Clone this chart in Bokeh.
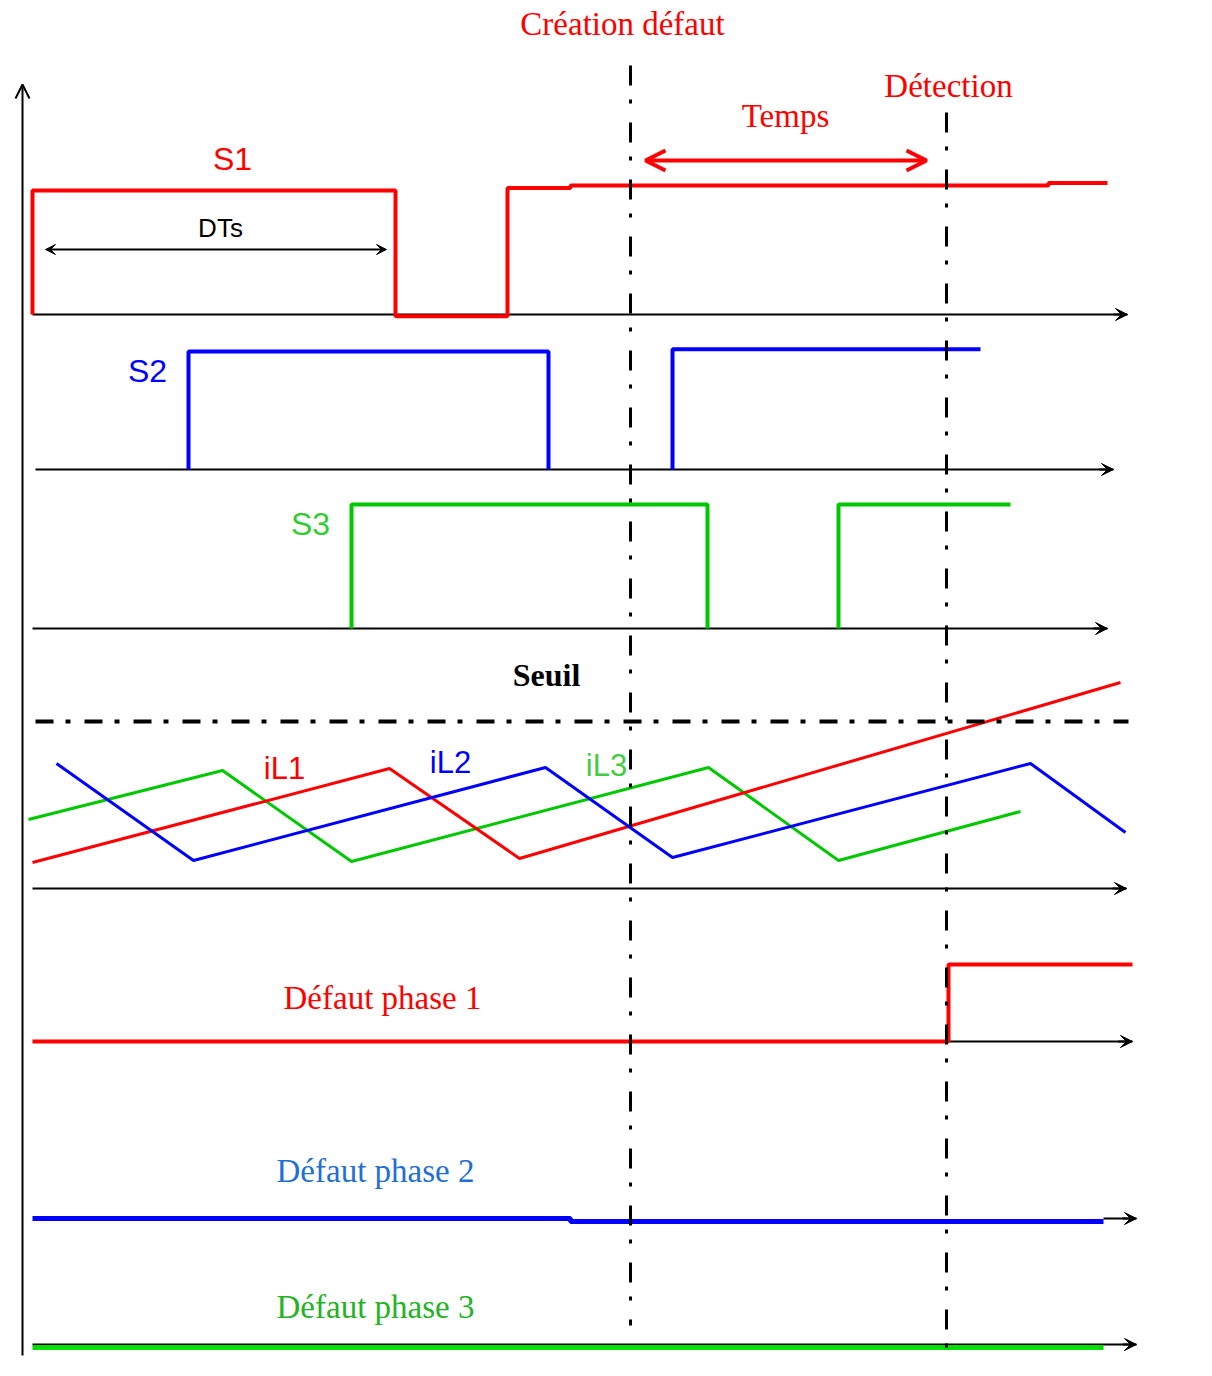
import math
from bokeh.plotting import figure
from bokeh.models import Range1d, ColumnDataSource, Arrow, VeeHead, OpenHead
from bokeh.core.properties import value
from bokeh.embed import file_html
from bokeh.resources import INLINE

NaN = float("nan")

# ---------------- data (time axis in drawing units, logic levels 0/1) ----------------
# switching signals
s1_t = [32, 32, 395, 395, 507, 507, 570, 570, 1048, 1048, 1107]
s1_v = [0, 1.0, 1.0, -0.015, -0.015, 1.02, 1.02, 1.04, 1.04, 1.06, 1.06]
s2_t = [188, 188, 548, 548, NaN, 672, 672, 980]
s2_v = [0, 1.0, 1.0, 0, NaN, 0, 1.02, 1.02]
s3_t = [351, 351, 707, 707, NaN, 838, 838, 1010]
s3_v = [0, 1.0, 1.0, 0, NaN, 0, 1.0, 1.0]

# inductor currents (relative to current baseline)
il1_t = [32, 389, 519, 1120]
il1_v = [26, 120, 30, 206]
il2_t = [56, 193, 545, 672, 1030, 1125]
il2_v = [125, 28, 121, 31, 125, 56]
il3_t = [28, 222, 351, 708, 838, 1020]
il3_v = [69, 118, 27, 121, 28, 77]
seuil = 167

# fault flags
f1_t = [32, 948, 948, 1132]
f1_v = [0, 0, 1, 1]
f2_t = [32, 570, 570, 1103]
f2_v = [0.0, 0.0, -0.04, -0.04]
f3_t = [32, 1103]
f3_v = [-0.04, -0.04]

t_fault = 630
t_detect = 946

# ---------------- layout ----------------
base_s1, amp_s1 = 314, 124
base_s2, amp_s2 = 469, 118
base_s3, amp_s3 = 628, 124
base_il = 888
base_f1, amp_f1 = 1041, 77
base_f2, amp_f2 = 1218, 77
base_f3, amp_f3 = 1344, 77

RED = "#ff0000"
BLUE = "#0000ff"
GREEN = "#00c800"

p = figure(width=1196, height=1360, x_range=Range1d(0, 1196), y_range=Range1d(1360, 0),
           output_backend="svg", toolbar_location=None, min_border=0)
p.axis.visible = False
p.grid.visible = False
p.outline_line_color = None
p.background_fill_color = "white"


def yy(base, amp, vals):
    return [base - amp * v for v in vals]


# baselines with arrows
bx0 = [32, 35, 32, 32, 948, 1103, 32]
bx1 = [1127, 1113, 1107, 1126, 1132, 1136, 1136]
by = [314, 469, 628, 888, 1041, 1218, 1344]
p.segment(x0=bx0, y0=by, x1=bx1, y1=by, line_color="black", line_width=2)
p.add_layout(Arrow(source=ColumnDataSource(dict(x0=[b - 14 for b in bx1], x1=bx1, y=by)),
                   x_start="x0", y_start="y", x_end="x1", y_end="y",
                   end=VeeHead(size=12, fill_color="black", line_color="black"),
                   line_color="black", line_width=2))

# vertical axis
p.add_layout(Arrow(x_start=22, y_start=1355, x_end=22, y_end=84,
                   end=OpenHead(size=14, line_color="black", line_width=2),
                   line_color="black", line_width=2))

# switching signals
p.line(s1_t, yy(base_s1, amp_s1, s1_v), line_color=RED, line_width=4)
p.line(s2_t, yy(base_s2, amp_s2, s2_v), line_color=BLUE, line_width=4)
p.line(s3_t, yy(base_s3, amp_s3, s3_v), line_color=GREEN, line_width=4)

# currents
p.line(il3_t, [base_il - v for v in il3_v], line_color=GREEN, line_width=3)
p.line(il1_t, [base_il - v for v in il1_v], line_color=RED, line_width=3)
p.line(il2_t, [base_il - v for v in il2_v], line_color=BLUE, line_width=3)

# threshold
p.line([35, 1128], [base_il - seuil] * 2, line_color="black", line_width=4, line_dash="18 12 5 14")

# fault flags
p.line(f1_t, yy(base_f1, amp_f1, f1_v), line_color=RED, line_width=4)
p.line(f2_t, yy(base_f2, amp_f2, f2_v), line_color=BLUE, line_width=5)
p.line(f3_t, yy(base_f3, amp_f3, f3_v), line_color="#00dd00", line_width=5)

# event lines
p.line([t_fault, t_fault], [65, 1325], line_color="black", line_width=3, line_dash="20 14 4 19")
p.line([t_detect, t_detect], [112, 1355], line_color="black", line_width=3, line_dash="20 14 4 19")

# DTs arrow
p.add_layout(Arrow(x_start=45, y_start=249, x_end=386, y_end=249,
                   start=VeeHead(size=10, fill_color="black", line_color="black"),
                   end=VeeHead(size=10, fill_color="black", line_color="black"),
                   line_color="black", line_width=2))
# Temps arrow
p.add_layout(Arrow(x_start=645, y_start=160, x_end=926, y_end=160,
                   start=OpenHead(size=20, line_color=RED, line_width=4),
                   end=OpenHead(size=20, line_color=RED, line_width=4),
                   line_color=RED, line_width=4))

SERIF = value("Liberation Serif")
SANS = value("Liberation Sans")


def label(x, y, txt, color, font, size, style="normal"):
    p.text(x=[x], y=[y], text=[txt], text_color=color, text_font=font,
           text_font_size=value(size), text_font_style=style,
           text_align="center", text_baseline="middle")


label(622, 23, "Création défaut", RED, SERIF, "33px")
label(948, 85, "Détection", RED, SERIF, "33px")
label(785, 115, "Temps", RED, SERIF, "33px")
label(232, 158, "S1", RED, SANS, "32px")
label(220, 227, "DTs", "black", SANS, "26px")
label(147, 370, "S2", BLUE, SANS, "32px")
label(310, 523, "S3", "#33cc33", SANS, "32px")
label(546, 674, "Seuil", "black", SERIF, "32px", "bold")
label(284, 768, "iL1", RED, SANS, "31px")
label(450, 762, "iL2", BLUE, SANS, "31px")
label(606, 765, "iL3", "#44cc44", SANS, "31px")
label(382, 997, "Défaut phase 1", RED, SERIF, "33px")
label(375, 1170, "Défaut phase 2", "#1f6fd6", SERIF, "33px")
label(375, 1306, "Défaut phase 3", "#22b422", SERIF, "33px")

open("out.html", "w").write(file_html(p, INLINE))
